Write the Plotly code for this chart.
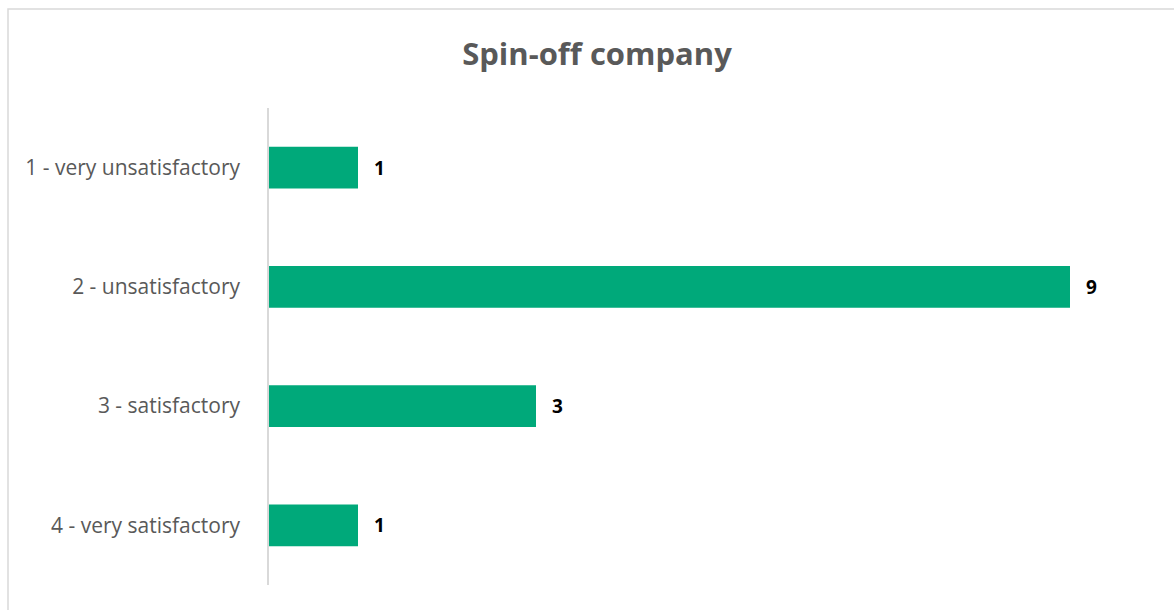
import plotly.graph_objects as go

categories = ["1 - very unsatisfactory", "2 - unsatisfactory", "3 - satisfactory", "4 - very satisfactory"]
values = [1, 9, 3, 1]
title_text = "Spin-off company"

BAR = "#00A97A"
GRAY_TXT = "#595959"
LINE = "#D9D9D9"
FONT = "Open Sans"

W, H = 1174, 610
ml, mr, mt, mb = 269, 15, 108, 25
pw, ph = W - ml - mr, H - mt - mb

fig = go.Figure()
fig.add_trace(go.Bar(
    y=categories, x=values, orientation="h",
    marker=dict(color=BAR, line=dict(width=0)),
    width=0.35, hoverinfo="skip",
))

for c, v in zip(categories, values):
    fig.add_annotation(x=v, y=c, xref="x", yref="y", text=f"<b>{v}</b>",
                       showarrow=False, xanchor="left", xshift=14,
                       font=dict(family=FONT, size=19, color="black"))

# chart border
fig.add_shape(type="rect", xref="paper", yref="paper",
              x0=(8 - ml) / pw, x1=(W + 20 - ml) / pw,
              y0=(H - mb - (H + 20)) / ph, y1=(H - mb - 9) / ph,
              line=dict(color=LINE, width=1.5), layer="below")

fig.update_layout(
    width=W, height=H,
    margin=dict(l=ml, r=mr, t=mt, b=mb),
    paper_bgcolor="white", plot_bgcolor="white",
    showlegend=False,
    title=dict(text=f"<b>{title_text}</b>", x=597 / W, xanchor="center",
               y=1 - 54 / H, yanchor="middle", xref="container", yref="container",
               font=dict(family=FONT, size=31, color=GRAY_TXT)),
    xaxis=dict(range=[0, 10], visible=False, fixedrange=True),
    yaxis=dict(autorange="reversed", showline=True, linecolor=LINE, linewidth=1.5,
               ticks="", showgrid=False, zeroline=False, ticklabelstandoff=23,
               tickfont=dict(family=FONT, size=21, color=GRAY_TXT)),
    font=dict(family=FONT),
)

fig.write_html("out.html")
